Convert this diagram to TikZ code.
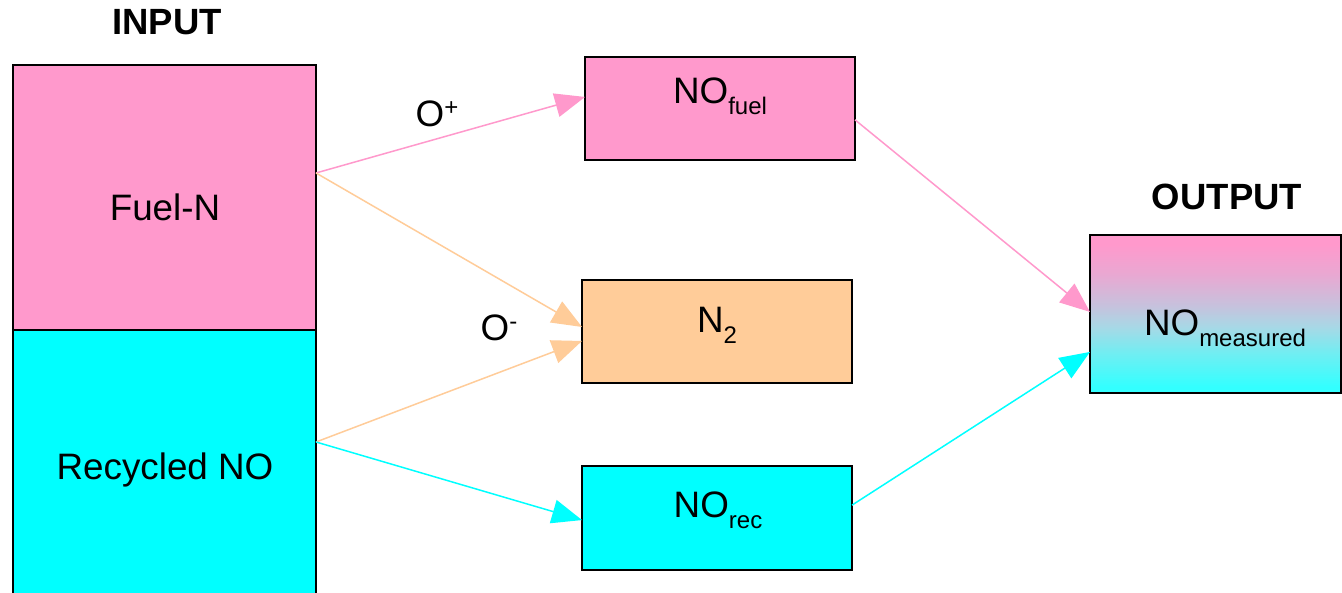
\documentclass[tikz,border=0pt]{standalone}
\usepackage{fontspec}
\setmainfont{Liberation Sans}
\usetikzlibrary{arrows.meta,calc}
\definecolor{fuelpink}{HTML}{FF99CC}
\definecolor{ntwo}{HTML}{FFCC99}
\definecolor{reccyan}{HTML}{00FFFF}
\definecolor{mixa}{HTML}{33FFFF}
\definecolor{mixb}{HTML}{70EEF2}
\definecolor{mixc}{HTML}{A8D8E6}
\definecolor{mixd}{HTML}{C6C2DD}
\definecolor{mixe}{HTML}{E9A8D2}
% the node's box covers the 25bp..75bp band of this shading
\pgfdeclareverticalshading{measuredshade}{100bp}{color(0bp)=(mixa); color(27bp)=(mixa);
  color(37.5bp)=(mixb); color(46bp)=(mixc); color(52.5bp)=(mixd); color(62.5bp)=(mixe);
  color(72bp)=(fuelpink); color(100bp)=(fuelpink)}
\newcommand{\lowsub}[1]{\raisebox{-11pt}{\fontsize{24}{24}\selectfont #1}}
\newcommand{\highsup}[1]{\raisebox{11pt}{\fontsize{24}{24}\selectfont #1}}
\begin{document}
\begin{tikzpicture}[x=1pt,y=-1pt,
  every node/.style={inner sep=0pt,outer sep=0pt},
  txt/.style={font=\fontsize{36.8}{40}\selectfont,anchor=base},
  head/.style={font=\fontsize{36.5}{40}\selectfont\bfseries,anchor=base},
  inbox/.style={draw=black,line width=2pt,minimum width=303pt,minimum height=265pt},
  midbox/.style={draw=black,line width=2pt,minimum width=270pt,minimum height=103pt},
  flow/.style={line width=1.5pt,-{Triangle[length=30pt,width=24pt]}}]
\clip (0,0) rectangle (1342,593);
\fill[white] (0,0) rectangle (1342,593);

% input column
\node[inbox,fill=fuelpink] (fuel) at (164.5,197.5) {};
\node[inbox,fill=reccyan] (rec) at (164.5,462.5) {};
\node[head] (inlab) at (167,35) {INPUT};
\node[txt] (fueltxt) at (165,221) {Fuel-N};
\node[txt] (rectxt) at (165,479) {Recycled NO};

% intermediate products
\node[midbox,fill=fuelpink] (nofuel) at (720,108.5) {};
\node[midbox,fill=ntwo] (ntwobox) at (717,331.5) {};
\node[midbox,fill=reccyan] (norec) at (717,518) {};
\node[txt] (nofueltxt) at (720,104) {NO\lowsub{fuel}};
\node[txt] (ntwotxt) at (717,333) {N\lowsub{2}};
\node[txt] (norectxt) at (718,518) {NO\lowsub{rec}};

% output
\node[draw=black,line width=2pt,minimum width=251pt,minimum height=158pt,
      shading=measuredshade] (out) at (1215.5,314) {};
\node[head] (outlab) at (1227,210) {OUTPUT};
\node[txt] (outtxt) at (1225,336) {NO\lowsub{measured}};

% reaction labels
\node[txt] (oplus) at (437,127) {O\highsup{+}};
\node[txt] (ominus) at (499,341) {O\highsup{-}};

% connectors
\coordinate (fuelout) at ($(fuel.north east)!0.4075!(fuel.south east)$);
\coordinate (recout) at ($(rec.north east)!0.4226!(rec.south east)$);
\draw[flow,fuelpink] (fuelout) -- ($(nofuel.north west)!0.388!(nofuel.south west)$);
\draw[flow,ntwo] (fuelout) -- ($(ntwobox.north west)!0.456!(ntwobox.south west)$);
\draw[flow,ntwo] (recout) -- ($(ntwobox.north west)!0.592!(ntwobox.south west)$);
\draw[flow,reccyan] (recout) -- ($(norec.north west)!0.52!(norec.south west)$);
\draw[flow,fuelpink] ($(nofuel.north east)!0.61!(nofuel.south east)$) -- ($(out.north west)!0.487!(out.south west)$);
\draw[flow,reccyan] ($(norec.north east)!0.375!(norec.south east)$) -- ($(out.north west)!0.74!(out.south west)$);
\end{tikzpicture}
\end{document}
